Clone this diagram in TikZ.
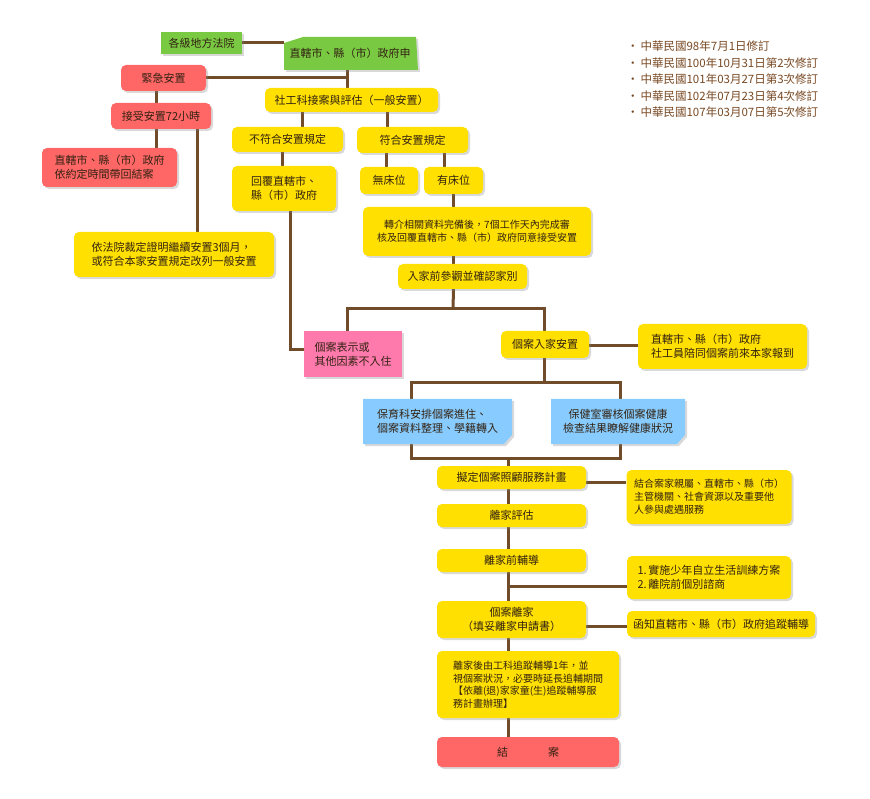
\documentclass[tikz,border=0pt]{standalone}
\usepackage{fontspec}
\setmainfont{Noto Sans CJK TC}
\usepackage{tikz}
\usetikzlibrary{shapes,positioning,backgrounds,shadows}
\usepackage{xcolor}
\definecolor{linebrown}{RGB}{112,76,42}
\definecolor{boxyellow}{RGB}{255,224,0}
\definecolor{boxred}{RGB}{255,102,102}
\definecolor{boxgreen}{RGB}{122,201,67}
\definecolor{boxpink}{RGB}{255,122,172}
\definecolor{boxblue}{RGB}{136,204,255}
\definecolor{inktext}{RGB}{50,34,18}
\definecolor{notebrown}{RGB}{120,72,34}

\begin{document}
\begin{tikzpicture}[x=1pt,y=-1pt,
    shadowed/.style={drop shadow={shadow xshift=2pt,shadow yshift=-2pt,opacity=.3}},
    box/.style={rectangle, rounded corners=5pt, inner sep=0pt, text=inktext, shadowed,
        font=\fontsize{11}{14}\selectfont, align=center},
    plain/.style={rectangle, inner sep=0pt, text=inktext,
        font=\fontsize{11}{14}\selectfont, align=center},
    ybox/.style={box, fill=boxyellow},
    rbox/.style={box, fill=boxred},
    small/.style={font=\fontsize{10}{13}\selectfont},
    link/.style={draw=linebrown, line width=3pt}]
    \useasboundingbox (0,0) rectangle (870,799);

    % top part
    \node[box, fill=boxgreen, rounded corners=0pt, minimum width=81, minimum height=22] (court) at (201.5,43) {各級地方法院};
    \fill[boxgreen, shadowed] (284,43) -- (303,37) -- (416,37) -- (418,70) -- (284,70) -- cycle;
    \node[plain, minimum width=132, minimum height=33] (gov) at (350,53.5) {直轄市、縣（市）政府申};
    \node[rbox, minimum width=85, minimum height=26] (emerg) at (163.5,78) {緊急安置};
    \node[ybox, minimum width=173, minimum height=24] (social) at (351.5,100) {社工科接案與評估（一般安置）};
    \node[rbox, minimum width=100, minimum height=26] (accept) at (161,116) {接受安置72小時};
    \node[ybox, minimum width=111, minimum height=25] (nofit) at (287.5,139.5) {不符合安置規定};
    \node[ybox, minimum width=111, minimum height=26] (fit) at (412.5,140) {符合安置規定};
    \node[rbox, align=left, minimum width=135, minimum height=39] (back) at (109.5,167.5) {直轄市、縣（市）政府\\依約定時間帶回結案};
    \node[ybox, align=left, minimum width=104, minimum height=45] (reply) at (284,188.5) {回覆直轄市、\\縣（市）政府};
    \node[ybox, minimum width=58, minimum height=27] (nobed) at (389,180.5) {無床位};
    \node[ybox, minimum width=59, minimum height=27] (bed) at (453.5,180.5) {有床位};
    \node[ybox, small, minimum width=228, minimum height=49] (refer) at (477,231.5) {轉介相關資料完備後，7個工作天內完成審\\核及回覆直轄市、縣（市）政府同意接受安置};
    \node[ybox, align=left, minimum width=200, minimum height=45] (court3) at (174,254.5) {依法院裁定證明繼續安置3個月，\\或符合本家安置規定改列一般安置};
    \node[ybox, minimum width=129, minimum height=25] (visit) at (462.5,276.5) {入家前參觀並確認家別};

    % placement
    \node[box, fill=boxpink, rounded corners=0pt, align=left, minimum width=98, minimum height=46] (refuse) at (353,354) {個案表示或\\其他因素不入住};
    \node[ybox, minimum width=88, minimum height=27] (enter) at (545,344.5) {個案入家安置};
    \node[ybox, align=left, minimum width=169, minimum height=45] (report) at (722.5,346.5) {直轄市、縣（市）政府\\社工員陪同個案前來本家報到};
    \fill[boxblue, shadowed] (363,399) -- (512,399) -- (512,435) -- (504,444) -- (363,444) -- cycle;
    \node[plain, align=left, minimum width=149, minimum height=45] (nursery) at (437.5,421.5) {保育科安排個案進住、\\個案資料整理、學籍轉入};
    \fill[boxblue, shadowed] (551,399) -- (685,399) -- (685,435) -- (677,444) -- (551,444) -- cycle;
    \node[plain, minimum width=134, minimum height=45] (health) at (618,421.5) {保健室審核個案健康\\檢查結果瞭解健康狀況};

    % leaving
    \node[ybox, minimum width=149, minimum height=23] (plan) at (511.5,477.5) {擬定個案照顧服務計畫};
    \node[ybox, small, align=left, minimum width=165, minimum height=54] (family) at (709,497) {結合案家親屬、直轄市、縣（市）\\主管機關、社會資源以及重要他\\人參與處遇服務};
    \node[ybox, minimum width=149, minimum height=23] (assess) at (511.5,515.5) {離家評估};
    \node[ybox, minimum width=149, minimum height=23] (guide) at (511.5,560.5) {離家前輔導};
    \node[ybox, align=left, minimum width=164, minimum height=43] (train) at (709,577.5) {1.\,實施少年自立生活訓練方案\\2.\,離院前個別諮商};
    \node[ybox, minimum width=149, minimum height=37] (leave) at (511.5,619.5) {個案離家\\（填妥離家申請書）};
    \node[ybox, minimum width=188, minimum height=26] (notify) at (721,624) {函知直轄市、縣（市）政府追蹤輔導};
    \node[ybox, align=left, font=\fontsize{10}{12.5}\selectfont, minimum width=182, minimum height=67] (follow) at (528,684.5) {離家後由工科追蹤輔導1年，並\\視個案狀況，必要時延長追輔期間\\【依離(退)家家童(生)追蹤輔導服\\務計畫辦理】};
    \node[rbox, minimum width=182, minimum height=30] (close) at (528,752) {結\hspace{40pt}案};

    % revisions
    \node[anchor=north west, align=left, text=notebrown, inner sep=0pt,
        font=\fontsize{11.5}{16.5}\selectfont] (notes) at (627,41) {‧\,中華民國98年7月1日修訂\\‧\,中華民國100年10月31日第2次修訂\\‧\,中華民國101年03月27日第3次修訂\\‧\,中華民國102年07月23日第4次修訂\\‧\,中華民國107年03月07日第5次修訂};

    % connectors
    \begin{scope}[on background layer]
        \coordinate (spine) at (347,78);
        \draw[link] (court.east) -- (court.east -| gov.west);
        \draw[link] (emerg.east) -- (spine);
        \draw[link] (gov.south -| spine) -- (social.north -| spine);
        \draw[link] ([xshift=-7.5pt]emerg.south) -- ([xshift=-7.5pt]emerg.south |- accept.north);
        \draw[link] ([xshift=-5pt]accept.south) -- ([xshift=-5pt]accept.south |- back.north);
        \draw[link] ([xshift=36pt]accept.south) -- ([xshift=36pt]accept.south |- court3.north);
        \draw[link] ([xshift=-49.5pt]social.south) -- ([xshift=-49.5pt]social.south |- nofit.north);
        \draw[link] ([xshift=35.5pt]social.south) -- ([xshift=35.5pt]social.south |- fit.north);
        \draw[link] ([xshift=-5.5pt]nofit.south) -- ([xshift=-5.5pt]nofit.south |- reply.north);
        \draw[link] ([xshift=-26.5pt]fit.south) -- ([xshift=-26.5pt]fit.south |- nobed.north);
        \draw[link] ([xshift=31.5pt]fit.south) -- ([xshift=31.5pt]fit.south |- bed.north);
        \draw[link] (bed.south) -- (bed.south |- refer.north);
        \draw[link] (bed.south |- refer.south) -- (bed.south |- visit.north);
        \coordinate (split) at (453,309);
        \draw[link] (bed.south |- visit.south) -- (split);
        \draw[link] ([xshift=-6pt]refuse.north) |- (split) -| ([xshift=-1pt]enter.north);
        \draw[link] ([xshift=6pt]reply.south) |- ([yshift=4pt]refuse.west);
        \draw[link] ([yshift=-1.5pt]enter.east) -- ([yshift=-1.5pt]enter.east -| report.west);
        \coordinate (care) at (544,383);
        \draw[link] ([xshift=-1pt]enter.south) -- (care);
        \draw[link] ([xshift=-26.5pt]nursery.north) |- (care) -| ([xshift=2pt]health.north);
        \coordinate (merge) at (508,458);
        \draw[link] ([xshift=-26.5pt]nursery.south) |- (merge) -| ([xshift=2pt]health.south);
        \draw[link] (merge) -- (close.north -| merge);
        \draw[link] ([yshift=-4.5pt]plan.east) -- ([yshift=-4.5pt]plan.east -| family.west);
        \draw[link] ([yshift=-8.5pt]train.west) -- ([yshift=-8.5pt]train.west -| merge);
        \draw[link] ([yshift=-6.5pt]leave.east) -- ([yshift=-6.5pt]leave.east -| notify.west);
    \end{scope}
\end{tikzpicture}
\end{document}
